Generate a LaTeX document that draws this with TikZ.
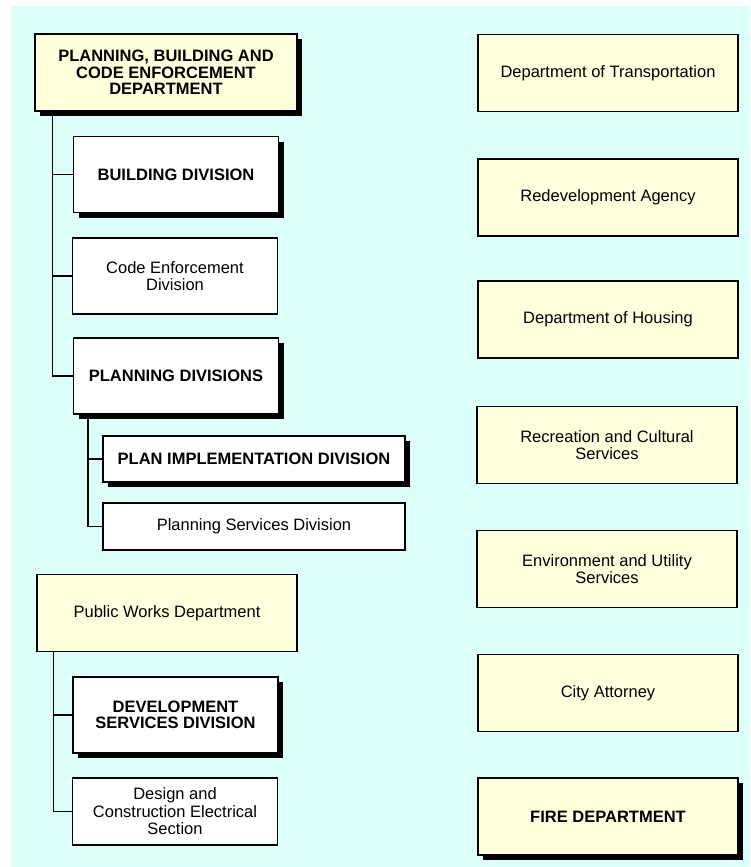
\documentclass[tikz,border=0pt]{standalone}
\usepackage{fontspec}
\setmainfont{Liberation Sans}
\usepackage{tikz}
\usetikzlibrary{shadows}
\definecolor{cream}{RGB}{255,255,221}
\definecolor{paleaqua}{RGB}{221,255,250}
\tikzstyle{unit}=[draw, line width=1.1pt, inner sep=0pt, align=center, font=\fontsize{16.5}{17.5}\selectfont]
\tikzstyle{dept}=[unit, fill=cream, minimum width=260pt, minimum height=77pt]
\tikzstyle{div}=[unit, fill=white, minimum width=205pt, minimum height=76pt]
\tikzstyle{sect}=[unit, fill=white, minimum width=302pt, minimum height=46pt]
\tikzstyle{major}=[font=\fontsize{16.5}{16.5}\selectfont\bfseries, drop shadow={shadow xshift=5pt, shadow yshift=-5pt, fill=black, opacity=1}]
\tikzstyle{link}=[line width=1.1pt]

\begin{document}
\begin{tikzpicture}[x=1pt, y=-1pt]
    \useasboundingbox (0,0) rectangle (750,867);
    \fill[paleaqua] (11,6) rectangle (750,867);
    % left column
    \node[dept, major, minimum width=262pt] (PBCE) at (166, 72.5) {PLANNING, BUILDING AND\\CODE ENFORCEMENT\\DEPARTMENT};
    \node[div, major]                (Bldg) at (176, 174.5) {BUILDING DIVISION};
    \node[div]                       (Code) at (175, 276) {Code Enforcement\\Division};
    \node[div, major]                (PlanDiv) at (176, 376) {PLANNING DIVISIONS};
    \node[sect, major]               (PlanImpl) at (254, 459) {PLAN IMPLEMENTATION DIVISION};
    \node[sect, minimum height=47pt] (PlanServ) at (254, 526.5) {Planning Services Division};
    \node[dept]                      (PubWorks) at (167, 613) {Public Works Department};
    \node[div, major]                (DevServ) at (175.5, 715) {DEVELOPMENT\\SERVICES DIVISION};
    \node[div, minimum height=67pt]  (Design) at (175, 811.5) {Design and\\Construction Electrical\\Section};
    \draw[link] ([xshift=18pt]PBCE.south west) |- (Bldg.west);
    \draw[link] ([xshift=18pt]PBCE.south west) |- (Code.west);
    \draw[link] ([xshift=18pt]PBCE.south west) |- (PlanDiv.west);
    \draw[link] ([xshift=15pt]PlanDiv.south west) |- (PlanImpl.west);
    \draw[link] ([xshift=15pt]PlanDiv.south west) |- (PlanServ.west);
    \draw[link] ([xshift=17pt]PubWorks.south west) |- (DevServ.west);
    \draw[link] ([xshift=17pt]PubWorks.south west) |- (Design.west);
    % right column
    \node[dept]        (Transp) at (608, 73) {Department of Transportation};
    \node[dept]        (Redev) at (608, 197.5) {Redevelopment Agency};
    \node[dept]        (Housing) at (608, 319.5) {Department of Housing};
    \node[dept]        (Recr) at (607, 445) {Recreation and Cultural\\Services};
    \node[dept]        (Envir) at (607, 569) {Environment and Utility\\Services};
    \node[dept]        (Atty) at (608, 693) {City Attorney};
    \node[dept, major] (Fire) at (608, 816.5) {FIRE DEPARTMENT};
\end{tikzpicture}
\end{document}
